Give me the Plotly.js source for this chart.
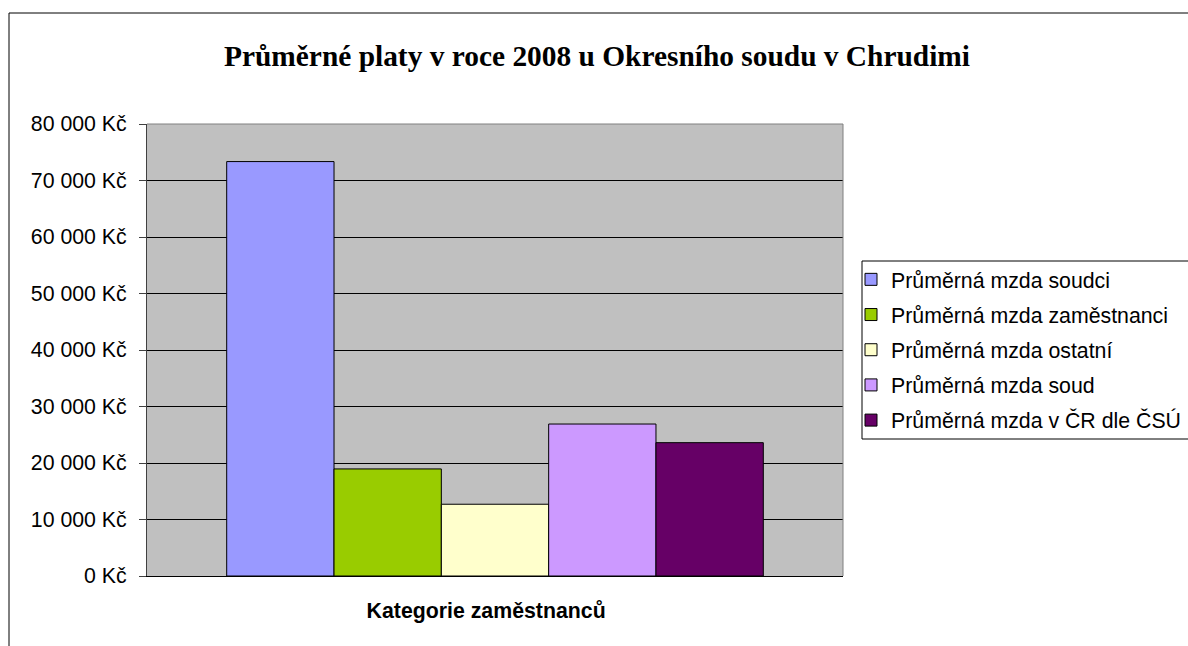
<!DOCTYPE html>
<html>
<head>
<meta charset="utf-8">
<script src="https://cdn.plot.ly/plotly-3.0.1.min.js"></script>
<style>html,body{margin:0;padding:0;background:#fff;}#chart{width:1188px;height:646px;}</style>
</head>
<body>
<div id="chart"></div>
<script>
const category = ['Kategorie zaměstnanců'];
const seriesNames = [
  'Průměrná mzda soudci',
  'Průměrná mzda zaměstnanci',
  'Průměrná mzda ostatní',
  'Průměrná mzda soud',
  'Průměrná mzda v ČR dle ČSÚ'
];
const seriesValues = [73350, 18950, 12700, 26900, 23600];
const seriesColors = ['#9999FF', '#99CC00', '#FFFFCC', '#CC99FF', '#660066'];
const titleText = 'Průměrné platy v roce 2008 u Okresního soudu v Chrudimi';
const xTitle = 'Kategorie zaměstnanců';

const W = 1188, H = 646;
const L = 147, R = 843, T = 124, B = 576;
const pw = R - L, ph = B - T;
const px = p => (p - L) / pw;
const py = p => (B - p) / ph;

const traces = seriesNames.map((n, i) => ({
  type: 'bar',
  name: n,
  x: category,
  y: [seriesValues[i]],
  legendgroup: 'g' + i,
  marker: {color: seriesColors[i], line: {color: '#000', width: 1}},
  hoverinfo: 'name+y'
}));

const layout = {
  width: W, height: H,
  margin: {l: L, r: W - R, t: T, b: H - B, pad: 0, autoexpand: false},
  paper_bgcolor: '#fff',
  plot_bgcolor: '#C0C0C0',
  separators: ', ',
  barmode: 'group',
  bargap: 0.229,
  bargroupgap: 0,
  font: {family: 'Liberation Sans, Arial, sans-serif', color: '#000'},
  title: {
    text: '<b>' + titleText + '</b>',
    font: {family: 'Liberation Serif, Times New Roman, serif', size: 29.4, color: '#000'},
    x: 597 / W, xref: 'container', xanchor: 'center',
    y: 1 - 56 / H, yref: 'container', yanchor: 'middle'
  },
  xaxis: {
    type: 'category',
    showticklabels: false,
    ticks: '',
    showgrid: false,
    showline: true, linecolor: '#000', linewidth: 1,
    title: {text: '<b>' + xTitle + '</b>&nbsp;&nbsp;&nbsp;', font: {size: 21.3, color: '#000'}, standoff: 27},
    automargin: false
  },
  yaxis: {
    range: [0, 80000],
    dtick: 10000,
    tickformat: ',d',
    ticksuffix: ' Kč',
    ticks: 'outside', ticklen: 7, tickcolor: '#404040', tickwidth: 1,
    ticklabelstandoff: 8,
    tickfont: {size: 21.3, color: '#000'},
    showline: true, linecolor: '#404040', linewidth: 1,
    showgrid: true, gridcolor: '#000', gridwidth: 1,
    zeroline: false,
    automargin: false
  },
  showlegend: true,
  legend: {
    xref: 'container', yref: 'container',
    x: 851 / W, xanchor: 'left',
    y: 1 - 259 / H, yanchor: 'top',
    bgcolor: 'rgba(0,0,0,0)',
    borderwidth: 0,
    font: {size: 21.3, color: '#000'},
    traceorder: 'grouped',
    tracegroupgap: 4.5,
    itemclick: false
  },
  shapes: [
    {type: 'path', xref: 'paper', yref: 'paper',
     path: `M 0 1 L 1 1 L 1 0`, line: {color: '#808080', width: 1}, layer: 'above'},
    {type: 'rect', xref: 'paper', yref: 'paper',
     x0: px(862), x1: px(1200), y0: py(439), y1: py(261),
     line: {color: '#000', width: 1}, fillcolor: 'rgba(0,0,0,0)'},
    {type: 'path', xref: 'paper', yref: 'paper',
     path: `M ${px(9)} ${py(660)} L ${px(9)} ${py(13)} L ${px(1200)} ${py(13)}`,
     line: {color: '#000', width: 1}}
  ]
};

Plotly.newPlot('chart', traces, layout, {displayModeBar: false, staticPlot: true});
</script>
</body>
</html>
